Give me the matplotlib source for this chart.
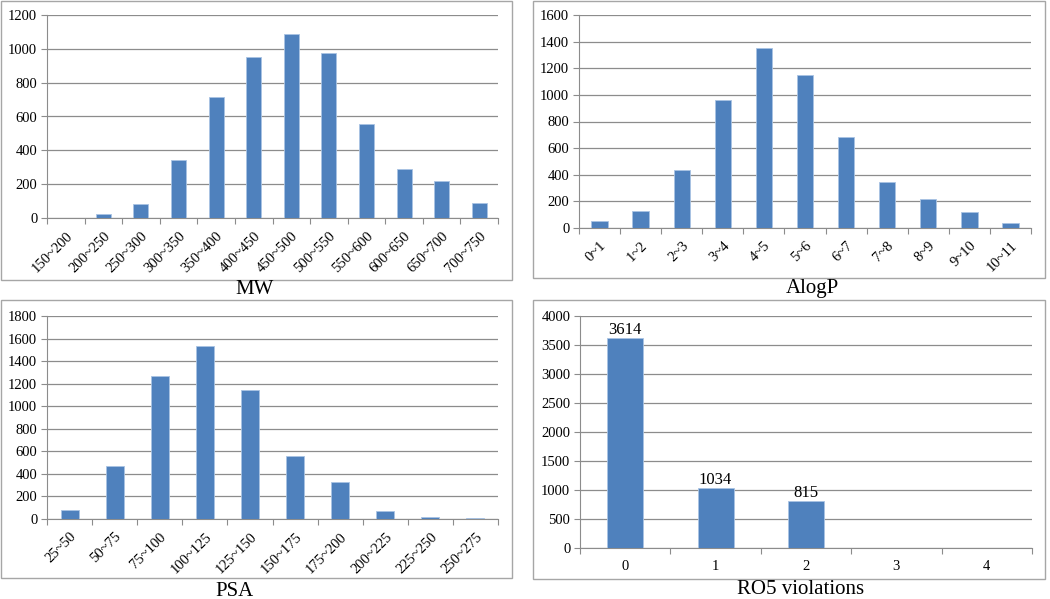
import numpy as np
import matplotlib
matplotlib.use("Agg")
import matplotlib.pyplot as plt
from matplotlib.patches import Rectangle

plt.rcParams['font.family'] = ['Liberation Serif', 'DejaVu Serif']

mw_labels = ["150~200", "200~250", "250~300", "300~350", "350~400", "400~450",
             "450~500", "500~550", "550~600", "600~650", "650~700", "700~750"]
mw_values = [0, 25, 85, 345, 718, 950, 1090, 978, 555, 290, 218, 88]

alogp_labels = ["0~1", "1~2", "2~3", "3~4", "4~5", "5~6", "6~7", "7~8", "8~9", "9~10", "10~11"]
alogp_values = [50, 130, 437, 958, 1350, 1152, 680, 345, 215, 122, 35]

psa_labels = ["25~50", "50~75", "75~100", "100~125", "125~150", "150~175",
              "175~200", "200~225", "225~250", "250~275"]
psa_values = [78, 470, 1272, 1537, 1145, 557, 328, 68, 15, 8]

ro5_labels = ["0", "1", "2", "3", "4"]
ro5_values = [3614, 1034, 815, 0, 0]

W, H = 1050, 599
fig = plt.figure(figsize=(W / 100, H / 100), dpi=100)
bar_color = "#4F81BD"
grid_color = "#8c8c8c"


def px_axes(x0, y0, x1, y1):
    return fig.add_axes([x0 / W, 1 - y1 / H, (x1 - x0) / W, (y1 - y0) / H])


def panel_box(x0, y0, x1, y1):
    fig.patches.append(Rectangle((x0 / W, 1 - y1 / H), (x1 - x0) / W, (y1 - y0) / H,
                                 transform=fig.transFigure, fill=False,
                                 edgecolor="#a6a6a6", linewidth=1.0))


def draw(ax, labels, values, ymax, ystep, rotate=True, annotate=False):
    n = len(labels)
    x = np.arange(n)
    bars = ax.bar(x, values, width=0.4, color=bar_color, edgecolor="#a9c3e3",
                  linewidth=0.6, zorder=3)
    ax.set_xlim(-0.5, n - 0.5)
    ax.set_ylim(0, ymax)
    ax.set_yticks(np.arange(0, ymax + 1, ystep))
    ax.yaxis.grid(True, color=grid_color, linewidth=0.9, zorder=0)
    for s in ["top", "right"]:
        ax.spines[s].set_visible(False)
    for s in ["left", "bottom"]:
        ax.spines[s].set_color(grid_color)
    # category boundaries as major ticks, labels on minor
    ax.set_xticks(np.arange(-0.5, n, 1.0))
    ax.set_xticklabels([])
    ax.tick_params(axis="x", which="major", length=4, color=grid_color, direction="out")
    ax.set_xticks(x, minor=True)
    if rotate:
        ax.set_xticklabels(labels, minor=True, rotation=45, ha="right",
                           rotation_mode="anchor", fontsize=10.5)
        ax.tick_params(axis="x", which="minor", length=0, pad=8)
    else:
        ax.set_xticklabels(labels, minor=True, fontsize=10.5)
        ax.tick_params(axis="x", which="minor", length=0, pad=9)
    ax.tick_params(axis="y", length=4, color=grid_color, labelsize=10.5, pad=3)
    if annotate:
        for b, v in zip(bars, values):
            if v > 0:
                ax.text(b.get_x() + b.get_width() / 2, v, str(v), ha="center",
                        va="bottom", fontsize=12)


# panel frames
panel_box(1, 1, 512, 280)
panel_box(533, 1, 1045, 278)
panel_box(1, 300, 512, 578)
panel_box(533, 300, 1045, 579)

ax1 = px_axes(47, 15, 498, 218)
draw(ax1, mw_labels, mw_values, 1200, 200)
fig.text(255 / W, 1 - 289 / H, "MW", ha="center", va="center", fontsize=15)

ax2 = px_axes(579, 15, 1031, 228)
draw(ax2, alogp_labels, alogp_values, 1600, 200)
fig.text(812 / W, 1 - 288 / H, "AlogP", ha="center", va="center", fontsize=15)

ax3 = px_axes(47, 316, 498, 519)
draw(ax3, psa_labels, psa_values, 1800, 200)
fig.text(235 / W, 1 - 591 / H, "PSA", ha="center", va="center", fontsize=15)

ax4 = px_axes(580, 316, 1032, 548)
draw(ax4, ro5_labels, ro5_values, 4000, 500, rotate=False, annotate=True)
fig.text(801 / W, 1 - 590 / H, "RO5 violations", ha="center", va="center", fontsize=15)

fig.savefig("out.png", dpi=100)
